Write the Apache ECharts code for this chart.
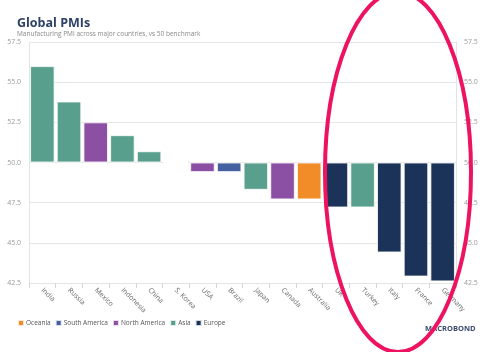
<!DOCTYPE html>
<html><head><meta charset="utf-8">
<script src="https://cdn.jsdelivr.net/npm/echarts@6/dist/echarts.min.js"></script>
<style>html,body{margin:0;padding:0;background:#fff}#c{width:500px;height:352px}</style>
</head><body><div id="c"></div>
<script>
const categories = ['India','Russia','Mexico','Indonesia','China','S. Korea','USA','Brazil','Japan','Canada','Australia','UK','Turkey','Italy','France','Germany'];
const pmiValues = [56.0,53.8,52.5,51.7,50.7,50.0,49.4,49.4,48.3,47.7,47.7,47.2,47.2,44.4,42.9,42.6];
const regions = ['Asia','Asia','North America','Asia','Asia','Asia','North America','South America','Asia','North America','Oceania','Europe','Asia','Europe','Europe','Europe'];
const legendOrder = ['Oceania','South America','North America','Asia','Europe'];
const regionColors = {'Oceania':'#F28C28','South America':'#4560A0','North America':'#8B4FA3','Asia':'#58A08D','Europe':'#1B3359'};
const benchmark = 50;
const yTicks = [42.5,45.0,47.5,50.0,52.5,55.0,57.5];

const chart = echarts.init(document.getElementById('c'));
const series = legendOrder.map(r => ({
  name: r, type: 'bar', stack: 'all',
  barCategoryGap: '8%',
  itemStyle: {color: regionColors[r], borderColor: 'rgba(255,255,255,0.8)', borderWidth: 1},
  data: pmiValues.map((v,i) => regions[i] === r ? +(v - benchmark).toFixed(2) : null)
}));
const yAxisBase = {
  type: 'value', min: yTicks[0]-benchmark, max: yTicks[yTicks.length-1]-benchmark, interval: 2.5,
  axisLine: {show: true, lineStyle: {color: '#e3e3e3'}},
  axisTick: {show: false},
  splitLine: {lineStyle: {color: '#e6e6e6'}},
  axisLabel: {color: '#9a9a9a', fontSize: 7, fontFamily: 'Open Sans', formatter: v => (v + benchmark).toFixed(1)}
};
chart.setOption({
  animation: false,
  title: {
    text: 'Global PMIs', left: 12, top: 12,
    textStyle: {fontFamily: 'Open Sans', fontSize: 12.5, fontWeight: 'bold', color: '#2D4068'},
    subtext: 'Manufacturing PMI across major countries, vs 50 benchmark',
    subtextStyle: {fontFamily: 'Open Sans', fontSize: 6.5, color: '#888'}, itemGap: 1
  },
  legend: {
    left: 12, top: 314, itemWidth: 6, itemHeight: 6, itemGap: 4, icon: 'rect',
    textStyle: {fontFamily: 'Open Sans', fontSize: 6.5, color: '#555', padding: [0,0,0,-3]},
    data: legendOrder
  },
  grid: {left: 29, right: 44, top: 42, bottom: 69},
  xAxis: {
    type: 'category', data: categories, position: 'bottom',
    axisLine: {onZero: false, lineStyle: {color: '#e3e3e3'}},
    axisTick: {show: true, lineStyle: {color: '#d5d5d5'}},
    axisLabel: {rotate: -45, color: '#666', fontSize: 7, fontFamily: 'Open Sans', margin: 6}
  },
  yAxis: [Object.assign({}, yAxisBase, {position: 'left'}), Object.assign({}, yAxisBase, {position: 'right', splitLine: {show: false}})],
  series: series,
  graphic: [
    {type: 'text', left: 425, top: 325, style: {text: 'MACROBOND', fill: '#3A4A6B', font: 'bold 7.5px "Open Sans"'}},
    {type: 'ellipse', shape: {cx: 398, cy: 172, rx: 73, ry: 180}, style: {fill: 'none', stroke: '#EE1361', lineWidth: 4}, z: 100}
  ]
});
</script></body></html>
